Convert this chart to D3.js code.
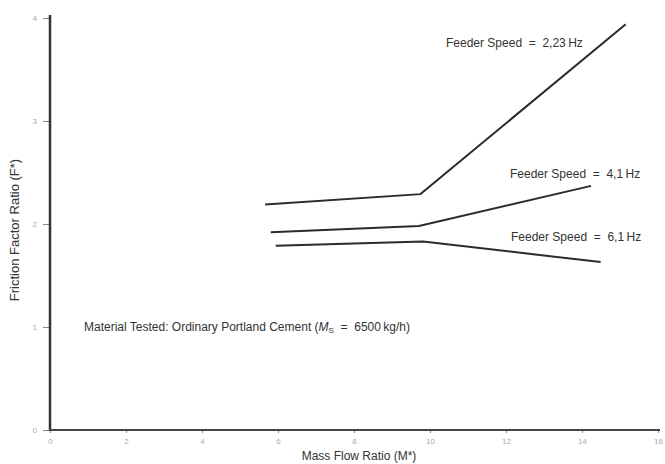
<!DOCTYPE html>
<html>
  <head>
    <title>Friction factor ratio vs mass flow ratio</title>
    <style>
      body { margin: 0; background: #fff; }
      text { font-family: "Liberation Sans", Arial, sans-serif; }
    </style>
  </head>
  <body>
    <script src="https://d3js.org/d3.v7.min.js"></script>
    <script>

var width = 665,
    height = 464;

// tick values on both axes
var xTicks = [0, 2, 4, 6, 8, 10, 12, 14, 16],
    yTicks = [0, 1, 2, 3, 4];

// one curve per feeder speed
var speeds = ["2,23", "4,1", "6,1"];
var massFlow223 = [5.66, 9.75, 15.15],
    friction223 = [2.19, 2.29, 3.94];
var massFlow41 = [5.81, 9.71, 14.24],
    friction41 = [1.92, 1.98, 2.37];
var massFlow61 = [5.94, 9.82, 14.49],
    friction61 = [1.79, 1.83, 1.63];

var series = [
  { speed: speeds[0], x: massFlow223, y: friction223 },
  { speed: speeds[1], x: massFlow41, y: friction41 },
  { speed: speeds[2], x: massFlow61, y: friction61 }
];

var x = d3.scaleLinear().domain([0, 16]).range([50, 658]);
var y = d3.scaleLinear().domain([0, 4]).range([430, 18]);

var svg = d3.select('body').append('svg')
    .attr('width', width)
    .attr('height', height);

// axes - drawn with d3 axis then restyled to look like the scan
var xAxis = svg.append('g')
    .attr('transform', 'translate(0,' + y(0) + ')')
    .call(d3.axisBottom(x).tickValues(xTicks).tickFormat(d3.format('d'))
      .tickSize(3).tickPadding(5));
var yAxis = svg.append('g')
    .attr('transform', 'translate(' + x(0) + ',0)')
    .call(d3.axisLeft(y).tickValues(yTicks).tickFormat(d3.format('d'))
      .tickSize(7).tickPadding(6));

[xAxis, yAxis].forEach(function (g) {
  g.select('.domain').remove();
  g.selectAll('.tick line').attr('stroke', '#888').attr('stroke-width', 1);
  g.selectAll('.tick text')
    .attr('fill', '#aaa')
    .style('font-size', '8px');
});

// heavy axis lines
svg.append('line')
    .attr('x1', x(0)).attr('x2', x(0))
    .attr('y1', y(0) + 1).attr('y2', y(4) - 3)
    .attr('stroke', '#333').attr('stroke-width', 2.5);
svg.append('line')
    .attr('x1', x(0) - 1).attr('x2', x(16) + 2)
    .attr('y1', y(0)).attr('y2', y(0))
    .attr('stroke', '#444').attr('stroke-width', 2.2);

var line = d3.line()
    .x(function (d) { return x(d[0]); })
    .y(function (d) { return y(d[1]); });

svg.selectAll('path.curve')
  .data(series)
  .enter().append('path')
    .attr('class', 'curve')
    .attr('fill', 'none')
    .attr('stroke', '#2b2b2b')
    .attr('stroke-width', 2)
    .attr('d', function (s) { return line(d3.zip(s.x, s.y)); });

// curve labels
var labelPos = [[446, 47], [510, 178], [511, 241]];
svg.selectAll('text.speed')
  .data(series)
  .enter().append('text')
    .attr('class', 'speed')
    .attr('x', function (d, i) { return labelPos[i][0]; })
    .attr('y', function (d, i) { return labelPos[i][1]; })
    .attr('fill', '#333')
    .style('font-size', '12px')
    .attr('xml:space', 'preserve')
    .text(function (d) { return 'Feeder Speed  =  ' + d.speed + '\u2009Hz'; });

// note about material
var note = svg.append('text')
    .attr('x', 84)
    .attr('y', 331)
    .attr('fill', '#333')
    .style('font-size', '12px')
    .attr('xml:space', 'preserve');
note.append('tspan').text('Material Tested: Ordinary Portland Cement (');
note.append('tspan').style('font-style', 'italic').text('M');
note.append('tspan').attr('dy', 2).style('font-size', '8px').text('S');
note.append('tspan').attr('dy', -2).text('  =  6500\u2009kg/h)');

// axis titles
svg.append('text')
    .attr('x', 359)
    .attr('y', 460)
    .attr('text-anchor', 'middle')
    .attr('fill', '#333')
    .style('font-size', '12px')
    .text('Mass Flow Ratio (M*)');

svg.append('text')
    .attr('transform', 'translate(19,230) rotate(-90)')
    .attr('text-anchor', 'middle')
    .attr('fill', '#333')
    .style('font-size', '13px')
    .text('Friction Factor Ratio (F*)');

    </script>
  </body>
</html>
